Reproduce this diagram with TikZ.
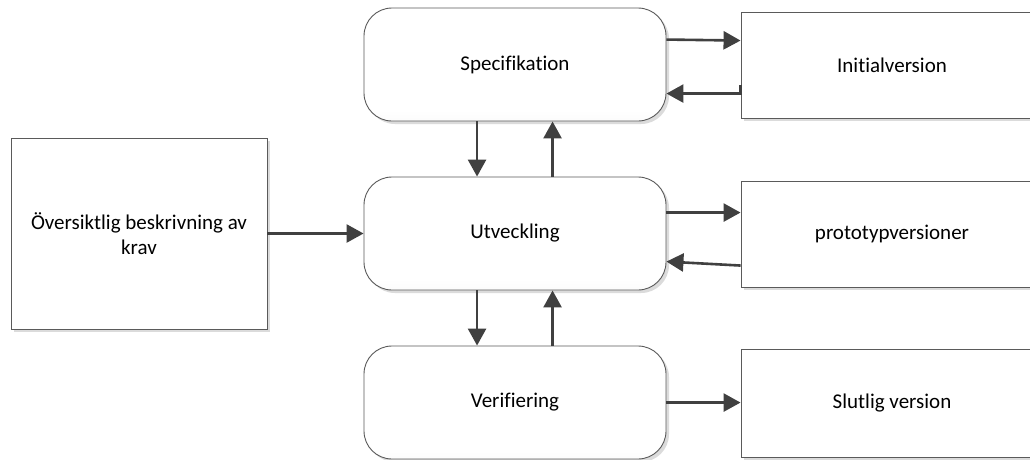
\documentclass[tikz,border=0pt]{standalone}
\usepackage{fontspec}
\setmainfont{Carlito}[Ligatures=NoCommon]
\usetikzlibrary{arrows.meta,shadows,calc}
\definecolor{edge}{HTML}{5A5A5A}
\definecolor{arrowc}{HTML}{404040}
\pgfdeclareverticalshading{roundfade}{100bp}{color(0bp)=(black!9); color(30bp)=(white); color(100bp)=(white)}
\begin{document}
\begin{tikzpicture}[x=1pt,y=-1pt,
  font=\fontsize{21}{25}\selectfont,
  boxshadow/.style={drop shadow={shadow xshift=3pt,shadow yshift=-3pt,fill=black!14,opacity=1}},
  roundbox/.style={draw=edge,line width=0.9pt,rounded corners=28pt,minimum width=302pt,minimum height=113pt,
    shading=roundfade,boxshadow,inner sep=0pt},
  rectbox/.style={draw=edge,line width=0.9pt,fill=white,minimum width=302pt,minimum height=106pt,boxshadow,inner sep=0pt},
  arr/.style={draw=arrowc,line width=2.6pt,-{Triangle[length=17pt,width=18pt]}}]
\useasboundingbox (0,0) rectangle (1030,459);
\clip (0,0) rectangle (1030,459);
\fill[white] (0,0) rectangle (1030,459);
% nodes
\node[rectbox,minimum width=256pt,minimum height=191pt,align=center] (L) at (139,233.5) {Översiktlig beskrivning av\\krav};
\node[roundbox] (S) at (515,64.5) {Specifikation};
\node[roundbox] (U) at (515,233.5) {Utveckling};
\node[roundbox] (V) at (515,402.5) {Verifiering};
\node[rectbox] (I) at (892,65) {Initialversion};
\node[rectbox] (P) at (892,234) {prototypversioner};
\node[rectbox,minimum height=108pt] (F) at (892,403) {Slutlig version};
% connectors
\draw[arr] (L.east) -- (U.west);
\draw[arr] ($(S.north east)+(0,32)$) -- ($(I.north west)+(0,29)$);
\draw[arr] ($(I.north west)+(0,73)$) -- ($(I.north west)+(0,82)$) -- ($(S.north east)+(0,86)$);
\draw[arr] ($(U.north east)+(0,36)$) -- ($(P.north west)+(0,32)$);
\draw[arr] ($(P.north west)+(0,85)$) -- ($(U.north east)+(0,85)$);
\draw[arr] ($(V.north east)+(0,57)$) -- ($(F.north west)+(0,54)$);
\draw[arr] ($(S.south west)+(113.5,0)$) -- ($(U.north west)+(113.5,0)$);
\draw[arr] ($(U.north west)+(189,0)$) -- ($(S.south west)+(189,0)$);
\draw[arr] ($(U.south west)+(113.5,0)$) -- ($(V.north west)+(113.5,0)$);
\draw[arr] ($(V.north west)+(189,0)$) -- ($(U.south west)+(189,0)$);
\end{tikzpicture}
\end{document}
